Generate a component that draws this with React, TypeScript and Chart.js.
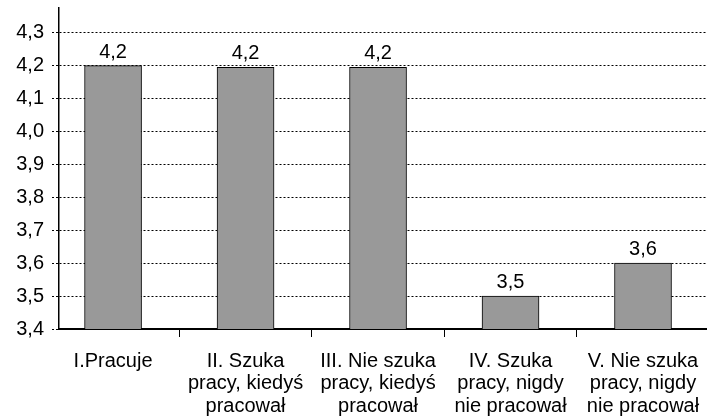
import React, { useEffect, useRef } from "react";
import { Chart, registerables } from "chart.js";

Chart.register(...registerables);

const categories: string[][] = [
  ["I.Pracuje"],
  ["II. Szuka", "pracy, kiedyś", "pracował"],
  ["III. Nie szuka", "pracy, kiedyś", "pracował"],
  ["IV. Szuka", "pracy, nigdy", "nie pracował"],
  ["V. Nie szuka", "pracy, nigdy", "nie pracował"],
];
const positions: number[] = [0, 1, 2, 3, 4];
const values: number[] = [4.2, 4.195, 4.195, 3.5, 3.6];
const valueLabels: string[] = ["4,2", "4,2", "4,2", "3,5", "3,6"];
const yTicks: number[] = [3.4, 3.5, 3.6, 3.7, 3.8, 3.9, 4.0, 4.1, 4.2, 4.3];

const FONT = '"Liberation Sans", Arial, sans-serif';

const labelPlugin = {
  id: "valueLabels",
  afterDatasetsDraw(chart: any) {
    const ctx = chart.ctx;
    const meta = chart.getDatasetMeta(0);
    ctx.save();
    ctx.font = `20px ${FONT}`;
    ctx.fillStyle = "#000";
    ctx.textAlign = "center";
    ctx.textBaseline = "alphabetic";
    meta.data.forEach((bar: any, i: number) => {
      ctx.fillText(valueLabels[i], bar.x, bar.y - 8);
    });
    ctx.restore();
  },
};

export default function App() {
  const ref = useRef<HTMLCanvasElement | null>(null);
  useEffect(() => {
    if (!ref.current) return;
    const chart = new Chart(ref.current, {
      type: "bar",
      data: {
        datasets: [
          {
            data: values.map((v, i) => ({ x: positions[i], y: v })),
            backgroundColor: "#999999",
            borderColor: "#000000",
            borderWidth: 1,
            barThickness: 57,
            borderSkipped: "start",
          } as any,
        ],
      },
      options: {
        animation: false,
        responsive: true,
        maintainAspectRatio: false,
        layout: { padding: { top: 8, right: 0, left: 0, bottom: 0 } },
        plugins: { legend: { display: false }, tooltip: { enabled: false } },
        scales: {
          x: {
            type: "linear",
            min: -0.408,
            max: 4.483,
            offset: false,
            afterBuildTicks: (scale: any) => {
              scale.ticks = positions.map((p) => ({ value: p }));
            },
            afterFit: (scale: any) => {
              scale.height = 90;
              scale.paddingLeft = 0;
              scale.paddingRight = 0;
            },
            ticks: {
              autoSkip: false,
              maxRotation: 0,
              minRotation: 0,
              padding: 13,
              color: "#000",
              font: { family: FONT, size: 20, lineHeight: 1.13 },
              callback: (_v: any, index: number) => categories[index],
            },
            grid: {
              display: true,
              drawOnChartArea: false,
              drawTicks: true,
              tickLength: 8,
              offset: true,
              color: "#000",
              tickColor: "#000",
              lineWidth: 1,
            },
            border: { display: true, color: "#000", width: 2 },
          },
          y: {
            min: 3.4,
            max: 4.375,
            afterBuildTicks: (scale: any) => {
              scale.ticks = yTicks.map((v) => ({ value: v }));
            },
            afterFit: (scale: any) => {
              scale.width = 59;
              scale.paddingTop = 0;
              scale.paddingBottom = 0;
            },
            ticks: {
              padding: 8,
              color: "#000",
              font: { family: FONT, size: 20 },
              callback: (v: any) => Number(v).toFixed(1).replace(".", ","),
            },
            grid: {
              display: true,
              drawTicks: true,
              tickLength: 7,
              color: "#000",
              tickColor: "#000",
              lineWidth: 1,
              borderDash: [2, 2],
              tickBorderDash: [2, 2],
            } as any,
            border: { display: true, color: "#000", width: 1.5, dash: [2, 2] },
          },
        },
      } as any,
      plugins: [labelPlugin],
    });
    return () => chart.destroy();
  }, []);
  return (
    <div style={{ position: "fixed", left: 0, top: 0, width: 707, height: 419, background: "#fff" }}>
      <canvas ref={ref} />
    </div>
  );
}
